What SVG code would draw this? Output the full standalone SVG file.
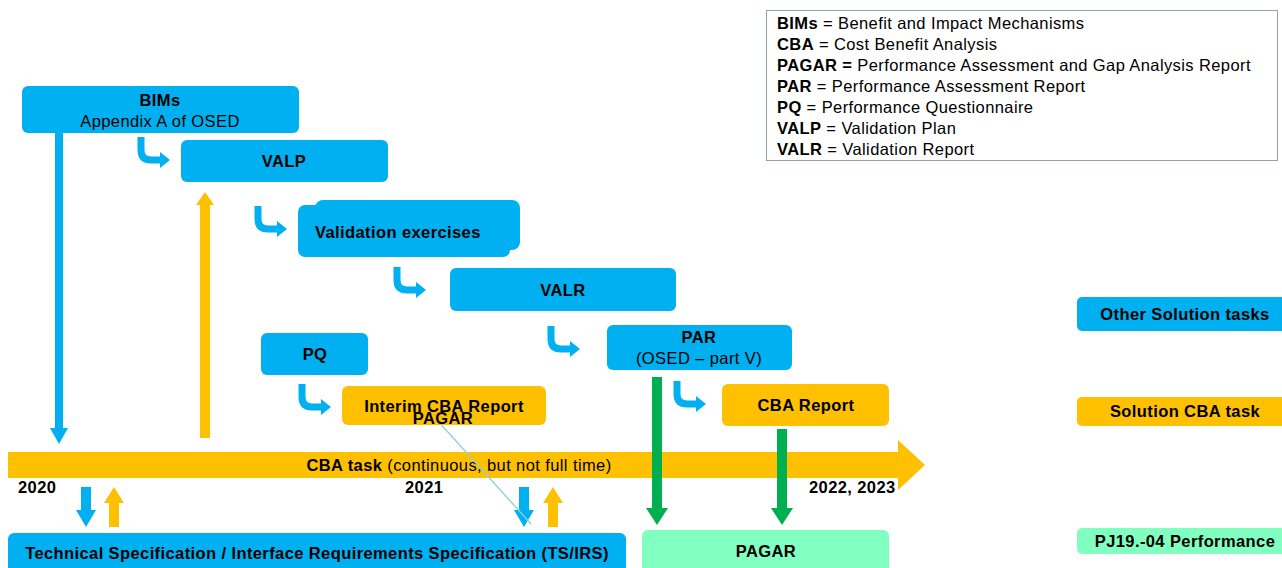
<svg xmlns="http://www.w3.org/2000/svg" width="1282" height="568" viewBox="0 0 1282 568">
<style>
text{font-family:"Liberation Sans",Arial,sans-serif;fill:#000;letter-spacing:0.4px}
.b{font-weight:bold;font-size:16.5px}
.n{font-size:16.5px}
.c{text-anchor:middle}
.blue{fill:#00B0F0}
.org{fill:#FFC000}
.grn{fill:#00B050}
.lg{fill:#80FFC0}
.leg{font-size:16.5px}
</style>
<defs>
<g id="bent">
<path d="M0,0 V13 Q0,23 10,23 H20" fill="none" stroke="#00B0F0" stroke-width="7"/>
<polygon points="19,15 29,23 19,31" fill="#00B0F0"/>
</g>
</defs>

<g id="legend">
<rect x="766.5" y="10.5" width="511" height="150" fill="#fff" stroke="#8FA3AD" stroke-width="1"/>
<text class="leg" x="777" y="29"><tspan font-weight="bold">BIMs</tspan> = Benefit and Impact Mechanisms</text>
<text class="leg" x="777" y="50"><tspan font-weight="bold">CBA</tspan> = Cost Benefit Analysis</text>
<text class="leg" x="777" y="71"><tspan font-weight="bold">PAGAR =</tspan> Performance Assessment and Gap Analysis Report</text>
<text class="leg" x="777" y="92"><tspan font-weight="bold">PAR</tspan> = Performance Assessment Report</text>
<text class="leg" x="777" y="113"><tspan font-weight="bold">PQ</tspan> = Performance Questionnaire</text>
<text class="leg" x="777" y="134"><tspan font-weight="bold">VALP</tspan> = Validation Plan</text>
<text class="leg" x="777" y="155"><tspan font-weight="bold">VALR</tspan> = Validation Report</text>
</g>

<g id="timeline">
<polygon class="org" points="8,452 898,452 898,440 925,465 898,490 898,478 8,478"/>
<text x="459" y="471" class="c"><tspan class="b">CBA task</tspan><tspan class="n"> (continuous, but not full time)</tspan></text>
<text class="b" x="18" y="493">2020</text>
<text class="b" x="405" y="493">2021</text>
<text class="b" x="809" y="493">2022, 2023</text>
</g>

<g id="connectors">
<polygon class="blue" points="55,133 63,133 63,428 68,428 59,444 50,428 55,428"/>
<polygon class="org" points="200,438 210,438 210,205 214,205 205,192 196,205 200,205"/>
<polygon class="blue" points="81,487 91,487 91,510 96,510 86,527 76,510 81,510"/>
<polygon class="org" points="109,527 119,527 119,503 124,503 114,487 104,503 109,503"/>
<polygon class="blue" points="519,487 529,487 529,510 534,510 524,527 514,510 519,510"/>
<polygon class="org" points="548,527 558,527 558,503 563,503 553,487 543,503 548,503"/>
<polygon class="grn" points="652,377 662,377 662,508 668,508 657,525 646,508 652,508"/>
<polygon class="grn" points="777,429 787,429 787,508 793,508 782,525 771,508 777,508"/>
<line x1="437" y1="420" x2="531" y2="524" stroke="#8ED0D6" stroke-width="1.3"/>
<use href="#bent" x="141" y="137"/>
<use href="#bent" x="258" y="206"/>
<use href="#bent" x="397" y="267"/>
<use href="#bent" x="551" y="326"/>
<use href="#bent" x="302" y="384"/>
<use href="#bent" x="677" y="381"/>
</g>

<g id="bims">
<rect class="blue" x="22" y="86" width="277" height="47" rx="6"/>
<text class="b c" x="160" y="106">BIMs</text>
<text class="n c" x="160" y="127">Appendix A of OSED</text>
</g>
<g id="valp">
<rect class="blue" x="181" y="140" width="207" height="42" rx="6"/>
<text class="b c" x="284" y="167">VALP</text>
</g>
<g id="validation">
<rect class="blue" x="315" y="200" width="205" height="50" rx="8"/>
<rect class="blue" x="298" y="205" width="212" height="52" rx="7"/>
<text class="b" x="315" y="238">Validation exercises</text>
</g>
<g id="valr">
<rect class="blue" x="450" y="268" width="226" height="43" rx="6"/>
<text class="b c" x="563" y="296">VALR</text>
</g>
<g id="par">
<rect class="blue" x="607" y="325" width="185" height="45" rx="6"/>
<text class="b c" x="699" y="343">PAR</text>
<text class="n c" x="699" y="364">(OSED – part V)</text>
</g>
<g id="pq">
<rect class="blue" x="261" y="333" width="107" height="42" rx="6"/>
<text class="b c" x="315" y="360">PQ</text>
</g>
<g id="interim">
<rect class="org" x="342" y="386" width="204" height="39" rx="6"/>
<text class="b c" x="444" y="412">Interim CBA Report</text>
<text class="b c" x="443" y="424">PAGAR</text>
</g>
<g id="cbareport">
<rect class="org" x="722" y="384" width="167" height="42" rx="6"/>
<text class="b c" x="806" y="411">CBA Report</text>
</g>
<g id="tsirs">
<rect class="blue" x="8" y="533" width="618" height="45" rx="6"/>
<text class="b c" x="317" y="559">Technical Specification / Interface Requirements Specification (TS/IRS)</text>
</g>
<g id="pagar">
<rect class="lg" x="642" y="530" width="247" height="48" rx="6"/>
<text class="b c" x="766" y="557">PAGAR</text>
</g>
<g id="key-other">
<rect class="blue" x="1077" y="297" width="215" height="34" rx="5"/>
<text class="b c" x="1185" y="320">Other Solution tasks</text>
</g>
<g id="key-cba">
<rect class="org" x="1077" y="397" width="215" height="29" rx="5"/>
<text class="b c" x="1185" y="417">Solution CBA task</text>
</g>
<g id="key-perf">
<rect class="lg" x="1077" y="528" width="215" height="26" rx="5"/>
<text class="b c" x="1185" y="547">PJ19.-04 Performance</text>
</g>
</svg>
